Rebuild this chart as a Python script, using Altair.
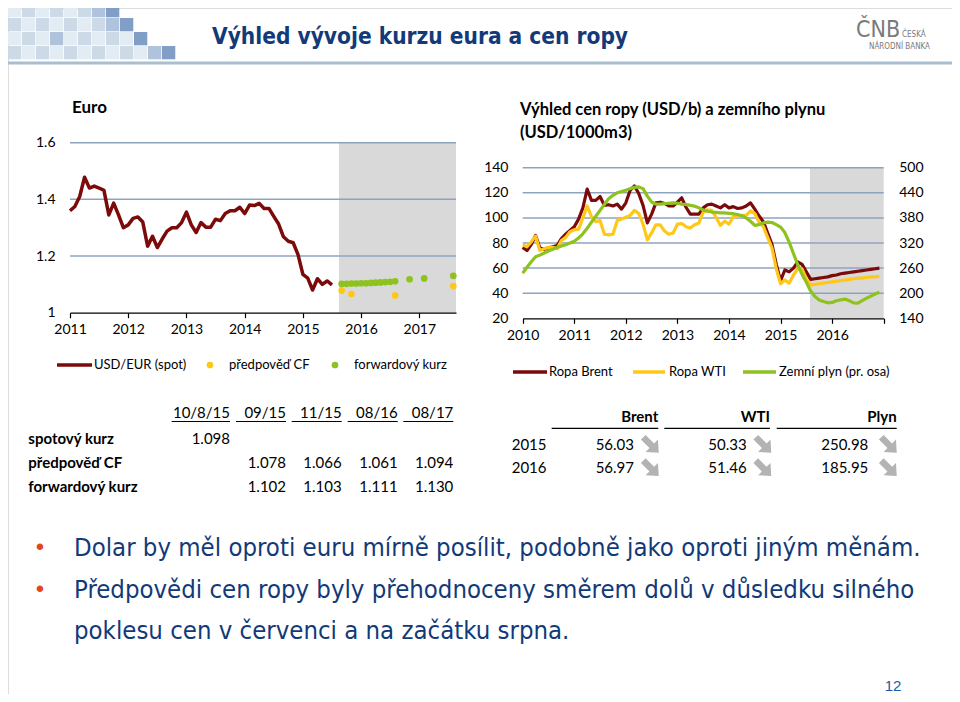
import altair as alt
import pandas as pd

# ------------------------------------------------------------------ data
# USD/EUR spot, monthly from Jan 2011
eur_start = 2011
eur_spot = [1.360, 1.375, 1.410, 1.478, 1.440, 1.447, 1.440, 1.432, 1.345, 1.387, 1.345, 1.300,
            1.310, 1.333, 1.338, 1.320, 1.235, 1.270, 1.230, 1.260, 1.288, 1.300, 1.300, 1.318,
            1.355, 1.310, 1.283, 1.318, 1.302, 1.302, 1.330, 1.325, 1.350, 1.360, 1.360, 1.372,
            1.350, 1.380, 1.378, 1.386, 1.368, 1.368, 1.340, 1.313, 1.268, 1.252, 1.247, 1.205,
            1.135, 1.122, 1.080, 1.120, 1.100, 1.112, 1.098]
cf_months = ["2015-09", "2015-11", "2016-08", "2017-08"]
cf_values = [1.078, 1.066, 1.061, 1.094]
fwd_months = ["2015-09", "2015-10", "2015-11", "2015-12", "2016-01", "2016-02", "2016-03",
              "2016-04", "2016-05", "2016-06", "2016-07", "2016-08", "2016-11", "2017-02", "2017-08"]
fwd_values = [1.102, 1.102, 1.103, 1.103, 1.104, 1.104, 1.105, 1.106, 1.107, 1.108, 1.109, 1.111,
              1.118, 1.121, 1.130]
eur_axis_end = 2017.63
eur_shade_start = 2015.62

# Oil (USD/b) and gas (USD/1000m3), monthly from Jan 2010
oil_start = 2010
brent = [76.5, 74.0, 79.0, 86.0, 76.0, 75.0, 76.0, 77.0, 78.0, 83.5, 87.0, 90.0,
         93.0, 99.0, 108.0, 123.0, 114.0, 114.0, 117.0, 110.0, 110.5, 109.5, 111.0, 107.0,
         112.0, 122.0, 125.5, 119.5, 110.0, 96.0, 103.0, 112.0, 112.5, 111.5, 109.5, 109.5,
         112.5, 116.0, 108.5, 103.0, 103.0, 103.0, 108.0, 110.5, 111.0, 109.5, 108.0, 110.5,
         108.0, 109.0, 107.5, 108.0, 109.5, 112.0, 107.0, 101.5, 97.0, 88.0, 79.0, 63.0,
         50.0, 58.5, 57.0, 60.0, 65.0, 63.0, 57.0, 51.0, 51.5, 52.0, 52.5, 53.0,
         54.0, 54.5, 55.5, 56.0, 56.5, 57.0, 57.5, 58.0, 58.5, 59.0, 59.5, 60.0]
wti = [78.5, 77.0, 81.0, 85.5, 74.0, 75.5, 76.5, 76.5, 75.5, 82.0, 84.5, 89.0,
       90.5, 91.0, 100.0, 109.5, 101.0, 97.0, 98.0, 87.0, 86.5, 87.0, 98.0, 99.0,
       100.5, 102.0, 106.0, 103.5, 95.0, 82.5, 88.0, 94.5, 94.5, 89.5, 87.0, 88.0,
       95.0, 95.5, 93.0, 92.0, 94.5, 96.0, 104.5, 106.5, 106.0, 100.5, 94.0, 97.5,
       95.0, 101.0, 101.0, 102.0, 102.0, 105.5, 103.5, 96.5, 93.0, 84.5, 76.0, 59.5,
       47.5, 50.5, 48.0, 54.5, 59.5, 59.5, 51.0, 46.5, 47.0, 47.5, 48.0, 48.5,
       49.0, 49.5, 50.0, 50.5, 51.0, 51.5, 52.0, 52.0, 52.5, 53.0, 53.0, 53.5]
gas = [248, 262, 275, 287, 291, 296, 301, 305, 309, 313, 316, 320,
       324, 332, 342, 355, 370, 384, 398, 412, 426, 434, 440, 443,
       446, 450, 453, 454, 450, 432, 418, 413, 413, 414, 415, 416,
       415, 413, 412, 410, 408, 404, 399, 396, 394, 393, 392, 392,
       391, 390, 388, 385, 380, 372, 362, 364, 368, 370, 369, 364,
       358, 345, 322, 295, 268, 245, 226, 205, 192, 184, 180, 177,
       178, 182, 184, 186, 182, 177, 176, 182, 188, 193, 198, 202]
oil_axis_end = 2017
oil_shade_start = 2015.57

left_table_cols = ["10/8/15", "09/15", "11/15", "08/16", "08/17"]
left_table_rows = ["spotový kurz", "předpověď CF", "forwardový kurz"]
left_table_vals = [["1.098", "", "", "", ""],
                   ["", "1.078", "1.066", "1.061", "1.094"],
                   ["", "1.102", "1.103", "1.111", "1.130"]]
right_table_cols = ["Brent", "WTI", "Plyn"]
right_table_rows = ["2015", "2016"]
right_table_vals = [["56.03", "50.33", "250.98"],
                    ["56.97", "51.46", "185.95"]]

bullets = ["Dolar by měl oproti euru mírně posílit, podobně jako oproti jiným měnám.",
           "Předpovědi cen ropy byly přehodnoceny směrem dolů v důsledku silného",
           "poklesu cen v červenci a na začátku srpna."]

deco_rows = [[1, 2, 1, 2, 1, 2, 3, 4, 0, 0, 0, 0],
             [2, 1, 2, 1, 2, 1, 2, 3, 4, 0, 0, 0],
             [1, 2, 1, 3, 1, 2, 1, 2, 1, 4, 0, 0],
             [2, 1, 2, 1, 2, 1, 2, 1, 2, 1, 3, 4]]

# ------------------------------------------------------------------ styles
W, H = 944, 686
FONT = "Lato"
NARROW = "DejaVu Sans Condensed, Roboto, Liberation Sans, sans-serif"
RED = "#7B0A0A"
YEL = "#FFC819"
GRN = "#8DC21F"
GRID = "#8EA3BF"
SHADE = "#D9D9D9"
NAVY = "#123A78"
ARROW = "M-1,-0.3L0.1,-0.3L0.1,-0.8L1,0L0.1,0.8L0.1,0.3L-1,0.3Z"


def ym(s):
    y, m = s.split("-")
    return int(y) + (int(m) - 1) / 12


def txt(s, x, y, size=14, color="#000", font=FONT, weight="normal", align="left", baseline="middle"):
    return alt.Chart(pd.DataFrame({"s": [s]})).mark_text(
        align=align, baseline=baseline, fontSize=size, font=font, fontWeight=weight, color=color
    ).encode(text="s:N", x=alt.value(x), y=alt.value(y))


def hline(x1, x2, y, color, width):
    return alt.Chart(pd.DataFrame({"a": [0]})).mark_rule(color=color, strokeWidth=width).encode(
        x=alt.value(x1), x2=alt.value(x2), y=alt.value(y))


def dot(x, y, color):
    return alt.Chart(pd.DataFrame({"a": [0]})).mark_circle(color=color, size=45, opacity=1).encode(
        x=alt.value(x), y=alt.value(y))


layers = []

# ------------------------------------------------------------------ header
cells = [(c, r, s) for r, row in enumerate(deco_rows) for c, s in enumerate(row) if s]
deco_df = pd.DataFrame(cells, columns=["c", "r", "s"])
deco_df["c1"] = deco_df["c"] + 0.95
deco_df["r1"] = deco_df["r"] + 0.95
layers.append(alt.Chart(deco_df).mark_rect().encode(
    x=alt.X("c:Q", scale=alt.Scale(domain=[0, 12], range=[0, 168]), axis=None),
    x2="c1",
    y=alt.Y("r:Q", scale=alt.Scale(domain=[0, 4], range=[-4, 52]), axis=None),
    y2="r1",
    color=alt.Color("s:O", scale=alt.Scale(domain=[1, 2, 3, 4],
                                           range=["#E3EBF3", "#CCDAE8", "#AFC4DC", "#819FC6"]),
                    legend=None)))
layers.append(txt("Výhled vývoje kurzu eura a cen ropy", 204, 29, size=22.5, color=NAVY,
                  font=NARROW, weight="bold"))
layers.append(hline(0, W, 55, "#A9BECF", 3))
layers.append(txt("ČNB", 848, 22, size=23, color="#7a7a7a", font=NARROW))
layers.append(txt("ČESKÁ", 894, 27, size=8, color="#7a7a7a", font=NARROW))
layers.append(txt("NÁRODNÍ BANKA", 861, 39, size=8, color="#7a7a7a", font=NARROW))

# ------------------------------------------------------------------ left chart (Euro)
xs_L = alt.Scale(domain=[eur_start, eur_axis_end], range=[62, 448], nice=False, zero=False)
ys_L = alt.Scale(domain=[1.0, 1.6], range=[304.7, 134.7], nice=False, zero=False)
ax_xL = alt.Axis(orient="bottom", offset=304.7 - H, values=list(range(2011, 2018)), format="d",
                 labelFlush=False, labelOverlap=False, tickSize=5, tickColor="#000",
                 domainColor="#000", domainWidth=1.2, tickWidth=1.2, labelFont=FONT,
                 labelFontSize=14, labelColor="#000", labelPadding=5, grid=False, title=None,
                 zindex=2)
ax_yL = alt.Axis(orient="left", offset=-62, values=[1, 1.2, 1.4, 1.6], format="~g", domain=False,
                 ticks=False, labelPadding=15, grid=False, title=None, labelFont=FONT,
                 labelFontSize=14, labelColor="#000", zindex=2)

eur_df = pd.DataFrame({"t": [eur_start + i / 12 for i in range(len(eur_spot))], "v": eur_spot})
cf_df = pd.DataFrame({"t": [ym(m) for m in cf_months], "v": cf_values})
fwd_df = pd.DataFrame({"t": [ym(m) for m in fwd_months], "v": fwd_values})
shadeL_df = pd.DataFrame({"a": [eur_shade_start], "b": [eur_axis_end], "lo": [1.0], "hi": [1.6]})
gridL_df = pd.DataFrame({"g": [1.2, 1.4, 1.6], "x0": [eur_start] * 3, "x1": [eur_axis_end] * 3})

left = alt.layer(
    alt.Chart(shadeL_df).mark_rect(color=SHADE).encode(
        x=alt.X("a:Q", scale=xs_L, axis=ax_xL), x2="b",
        y=alt.Y("lo:Q", scale=ys_L, axis=ax_yL), y2="hi"),
    alt.Chart(gridL_df).mark_rule(color=GRID, strokeWidth=1.5).encode(
        x=alt.X("x0:Q", scale=xs_L, axis=ax_xL), x2="x1",
        y=alt.Y("g:Q", scale=ys_L, axis=ax_yL)),
    alt.Chart(eur_df).mark_line(color=RED, strokeWidth=3.5, strokeJoin="round").encode(
        x=alt.X("t:Q", scale=xs_L, axis=ax_xL),
        y=alt.Y("v:Q", scale=ys_L, axis=ax_yL)),
    alt.Chart(cf_df).mark_circle(color=YEL, size=45, opacity=1).encode(
        x=alt.X("t:Q", scale=xs_L, axis=ax_xL), y=alt.Y("v:Q", scale=ys_L, axis=ax_yL)),
    alt.Chart(fwd_df).mark_circle(color=GRN, size=45, opacity=1).encode(
        x=alt.X("t:Q", scale=xs_L, axis=ax_xL), y=alt.Y("v:Q", scale=ys_L, axis=ax_yL)),
)
layers.append(left)
layers.append(txt("Euro", 64, 100, size=17, weight="bold"))

# left legend
layers.append(hline(49, 84, 357, RED, 3.5))
layers.append(txt("USD/EUR (spot)", 86, 357, size=13))
layers.append(dot(202, 357, YEL))
layers.append(txt("předpověď CF", 221, 357, size=13))
layers.append(dot(327, 357, GRN))
layers.append(txt("forwardový kurz", 346, 357, size=13))

# ------------------------------------------------------------------ right chart (oil, gas)
xs_R = alt.Scale(domain=[oil_start, oil_axis_end], range=[514.7, 875.7], nice=False, zero=False)
ys_R = alt.Scale(domain=[20, 140], range=[310.3, 159.7], nice=False, zero=False)
ys_G = alt.Scale(domain=[140, 500], range=[310.3, 159.7], nice=False, zero=False)
ax_xR = alt.Axis(orient="bottom", offset=310.3 - H, values=list(range(2010, 2018)), format="d",
                 labelExpr="datum.value >= 2017 ? '' : datum.label",
                 labelFlush=False, labelOverlap=False, tickSize=5, tickColor="#000",
                 domainColor="#000", domainWidth=1.2, tickWidth=1.2, labelFont=FONT,
                 labelFontSize=14, labelColor="#000", labelPadding=5, grid=False, title=None,
                 zindex=2)
ax_yR = alt.Axis(orient="left", offset=-514.7, values=list(range(20, 141, 20)), domain=False,
                 ticks=False, labelPadding=14.7, grid=False, title=None, labelFont=FONT,
                 labelFontSize=14, labelColor="#000", zindex=2)
ax_yG = alt.Axis(orient="right", offset=875.7 - W, values=list(range(140, 501, 60)), domain=False,
                 ticks=False, labelPadding=15, grid=False, title=None, labelFont=FONT,
                 labelFontSize=14, labelColor="#000", zindex=2)

tR = [oil_start + i / 12 for i in range(len(brent))]
brent_df = pd.DataFrame({"t": tR, "v": brent})
wti_df = pd.DataFrame({"t": tR, "v": wti})
gas_df = pd.DataFrame({"t": tR, "v": gas})
shadeR_df = pd.DataFrame({"a": [oil_shade_start], "b": [oil_axis_end], "lo": [20], "hi": [140]})
gridR_df = pd.DataFrame({"g": [40, 60, 80, 100, 120, 140], "x0": [oil_start] * 6,
                         "x1": [oil_axis_end] * 6})

right_oil = alt.layer(
    alt.Chart(shadeR_df).mark_rect(color=SHADE).encode(
        x=alt.X("a:Q", scale=xs_R, axis=ax_xR), x2="b",
        y=alt.Y("lo:Q", scale=ys_R, axis=ax_yR), y2="hi"),
    alt.Chart(gridR_df).mark_rule(color=GRID, strokeWidth=1.5).encode(
        x=alt.X("x0:Q", scale=xs_R, axis=ax_xR), x2="x1",
        y=alt.Y("g:Q", scale=ys_R, axis=ax_yR)),
    alt.Chart(brent_df).mark_line(color=RED, strokeWidth=3.2, strokeJoin="round").encode(
        x=alt.X("t:Q", scale=xs_R, axis=ax_xR),
        y=alt.Y("v:Q", scale=ys_R, axis=ax_yR)),
    alt.Chart(wti_df).mark_line(color=YEL, strokeWidth=3.2, strokeJoin="round").encode(
        x=alt.X("t:Q", scale=xs_R, axis=ax_xR),
        y=alt.Y("v:Q", scale=ys_R, axis=ax_yR)),
)
gas_line = alt.Chart(gas_df).mark_line(color=GRN, strokeWidth=3.2, strokeJoin="round").encode(
    x=alt.X("t:Q", scale=xs_R, axis=ax_xR),
    y=alt.Y("v:Q", scale=ys_G, axis=ax_yG))
right = alt.layer(right_oil, gas_line).resolve_scale(y="independent")
layers.append(right)
layers.append(txt("Výhled cen ropy (USD/b) a zemního plynu", 512, 102, size=16.5, weight="bold"))
layers.append(txt("(USD/1000m3)", 512, 125, size=16.5, weight="bold"))

# right legend
layers.append(hline(505, 539, 364, RED, 3.5))
layers.append(txt("Ropa Brent", 541, 364, size=13))
layers.append(hline(625, 657, 364, YEL, 3.5))
layers.append(txt("Ropa WTI", 661, 364, size=13))
layers.append(hline(735, 768, 364, GRN, 3.5))
layers.append(txt("Zemní plyn (pr. osa)", 771, 364, size=13))

# ------------------------------------------------------------------ left table
lt_right = [222, 278, 333.7, 389.7, 445.3]
lt_under = [163.7, 228, 283.7, 339.7, 395.3]
lt_rows_y = [431.3, 455.3, 478.7]
for j, c in enumerate(left_table_cols):
    layers.append(txt(c, lt_right[j], 404.7, size=15, align="right"))
    layers.append(hline(lt_under[j], lt_right[j], 413.5, "#000", 1.2))
for i, r in enumerate(left_table_rows):
    layers.append(txt(r, 20.3, lt_rows_y[i], size=15, weight="bold"))
    for j, v in enumerate(left_table_vals[i]):
        if v:
            layers.append(txt(v, lt_right[j], lt_rows_y[i], size=15, align="right"))

# ------------------------------------------------------------------ right table
rt_head = [650.3, 762, 888.7]
rt_under = [543.7, 656.3, 768.7]
rt_val = [626, 738.7, 860.3]
rt_arrow = [643, 755.5, 881]
rt_rows_y = [437, 460.3]
for j, c in enumerate(right_table_cols):
    layers.append(txt(c, rt_head[j], 409.3, size=15, weight="bold", align="right"))
    layers.append(hline(rt_under[j], rt_head[j], 420.3, "#000", 1.2))
for i, r in enumerate(right_table_rows):
    layers.append(txt(r, 503.7, rt_rows_y[i], size=15))
    for j, v in enumerate(right_table_vals[i]):
        layers.append(txt(v, rt_val[j], rt_rows_y[i], size=15, align="right"))
        layers.append(alt.Chart(pd.DataFrame({"a": [0]})).mark_point(
            shape=ARROW, angle=45, filled=True, size=480, opacity=1, color="#B3B3B3"
        ).encode(x=alt.value(rt_arrow[j]), y=alt.value(rt_rows_y[i])))

# ------------------------------------------------------------------ bullets
bullet_y = [540, 582, 623]
layers.append(txt("•", 32, bullet_y[0], size=24, color="#E2471F", font="Liberation Sans",
                  align="center"))
layers.append(txt("•", 32, bullet_y[1], size=24, color="#E2471F", font="Liberation Sans",
                  align="center"))
for k, b in enumerate(bullets):
    layers.append(txt(b, 66, bullet_y[k], size=25.5, color=NAVY, font=NARROW))

layers.append(txt("12", 885, 686, size=15, color="#2456A4", font="Liberation Sans",
                  align="center", baseline="bottom"))

chart = alt.layer(*layers).resolve_scale(x="independent", y="independent").properties(
    width=W, height=H, autosize=alt.AutoSizeParams(type="none"), padding=0
).configure_view(stroke=None).configure(background="white")

chart.save("out.html", embed_options={"renderer": "svg", "actions": False})
